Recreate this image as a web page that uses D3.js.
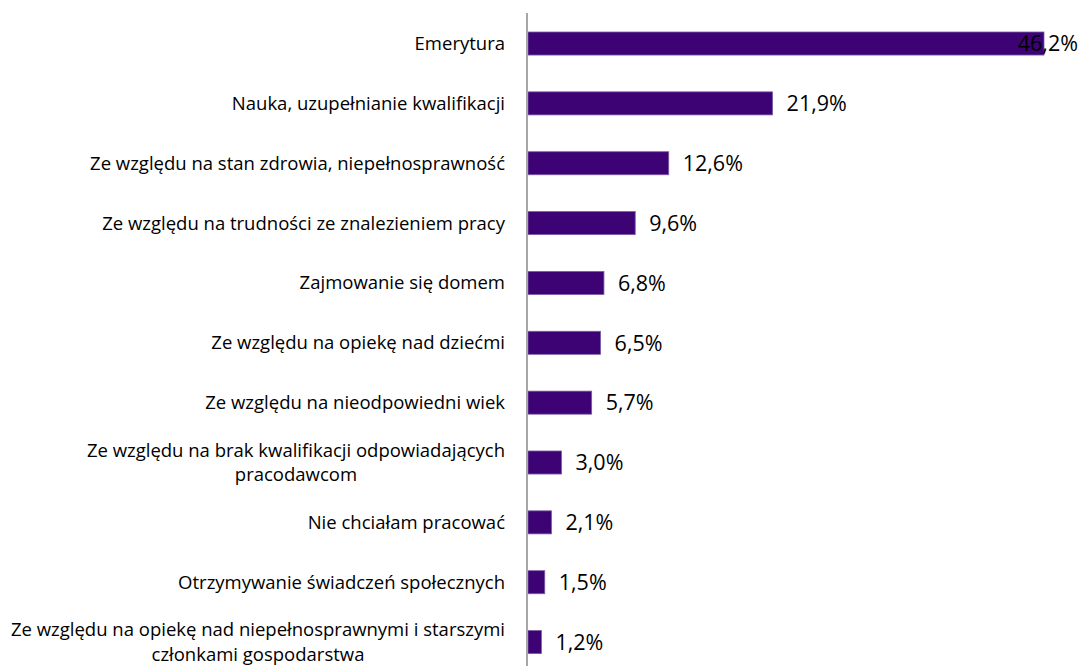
<!DOCTYPE html>
<html>
<head>
<meta charset="utf-8">
<script src="https://cdn.jsdelivr.net/npm/d3@7"></script>
<style>
  body { margin: 0; background: #fff; }
  text { font-family: "Open Sans", Lato, sans-serif; fill: #000; }
</style>
</head>
<body>
<svg width="1082" height="666"></svg>
<script>
// categories (each entry = lines of the wrapped label)
var categories = [
    ['Emerytura'],
    ['Nauka, uzupełnianie kwalifikacji'],
    ['Ze względu na stan zdrowia, niepełnosprawność'],
    ['Ze względu na trudności ze znalezieniem pracy'],
    ['Zajmowanie się domem'],
    ['Ze względu na opiekę nad dziećmi'],
    ['Ze względu na nieodpowiedni wiek'],
    ['Ze względu na brak kwalifikacji odpowiadających', 'pracodawcom'],
    ['Nie chciałam pracować'],
    ['Otrzymywanie świadczeń społecznych'],
    ['Ze względu na opiekę nad niepełnosprawnymi i starszymi', 'członkami gospodarstwa']
];
var values = [46.2, 21.9, 12.6, 9.6, 6.8, 6.5, 5.7, 3.0, 2.1, 1.5, 1.2];

var svg = d3.select('svg');
var svgWidth = +svg.attr('width');

var data = values.map(function(v, i) {
    return {key: i, lines: categories[i], value: v};
});

var yScale = d3.scaleBand()
    .domain(data.map(function(d) { return d.key; }))
    .range([13.6, 672])
    .paddingInner(0.615)
    .paddingOuter(0.3075);

var xScale = d3.scaleLinear()
    .domain([0, 46.2])
    .range([528, 1044]);

var labelRight = 505;
var fmt = function(v) { return v.toFixed(1).replace('.', ',') + '%'; };

// bars
svg.selectAll('.bar')
    .data(data)
    .enter()
    .append('rect')
    .attr('class', 'bar')
    .attr('x', xScale(0))
    .attr('y', function(d) { return yScale(d.key); })
    .attr('width', function(d) { return xScale(d.value) - xScale(0); })
    .attr('height', yScale.bandwidth())
    .attr('fill', '#3d0274')
    .attr('stroke', '#7c5ca8')
    .attr('stroke-width', 0.8);

// vertical axis line
svg.append('line')
    .attr('x1', 527).attr('x2', 527)
    .attr('y1', 13).attr('y2', 672)
    .attr('stroke', '#a6a6a6')
    .attr('stroke-width', 2);

// category labels
var lineH = 24.5;
svg.selectAll('.cat')
    .data(data)
    .enter()
    .append('text')
    .attr('class', 'cat')
    .attr('font-size', 18.5)
    .each(function(d) {
        var t = d3.select(this);
        var cy = yScale(d.key) + yScale.bandwidth() / 2;
        var n = d.lines.length;
        var spans = d.lines.map(function(l, j) {
            return t.append('tspan')
                .attr('y', cy + (j - (n - 1) / 2) * lineH)
                .attr('dy', '0.35em')
                .text(l);
        });
        var w = d3.max(spans, function(s) { return s.node().getComputedTextLength(); });
        spans.forEach(function(s) {
            s.attr('x', labelRight - w / 2).attr('text-anchor', 'middle');
        });
    });

// value labels
svg.selectAll('.val')
    .data(data)
    .enter()
    .append('text')
    .attr('class', 'val')
    .attr('font-size', 21.5)
    .attr('y', function(d) { return yScale(d.key) + yScale.bandwidth() / 2; })
    .attr('dy', '0.36em')
    .text(function(d) { return fmt(d.value); })
    .each(function(d) {
        var w = this.getComputedTextLength();
        var x = Math.min(xScale(d.value) + 14, svgWidth - 4 - w);
        d3.select(this).attr('x', x);
    });
</script>
</body>
</html>
